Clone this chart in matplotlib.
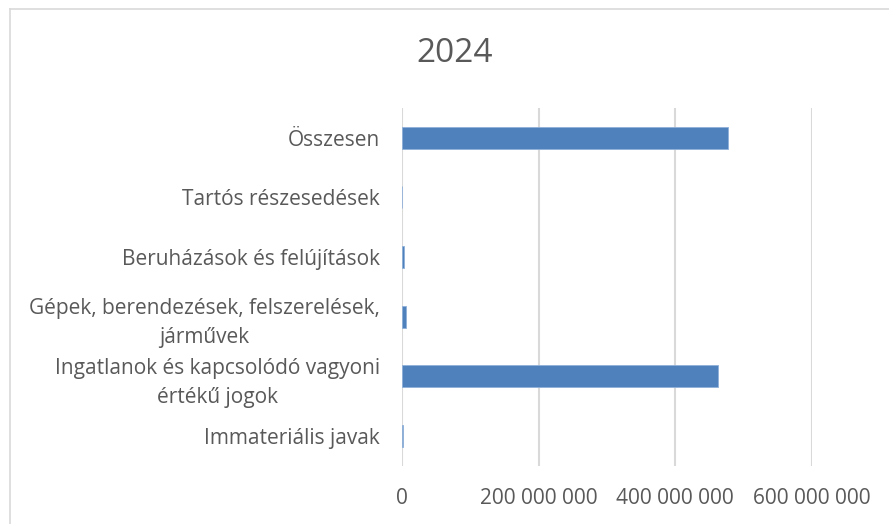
import matplotlib
matplotlib.use("Agg")
import matplotlib.pyplot as plt
from matplotlib.lines import Line2D

# adatok (alulról felfelé, ahogy az Excel-diagramon)
categories = [
    "Immateriális javak",
    "Ingatlanok és kapcsolódó vagyoni\nértékű jogok",
    "Gépek, berendezések, felszerelések,\njárművek",
    "Beruházások és felújítások",
    "Tartós részesedések",
    "Összesen",
]
values = [1_200_000, 463_000_000, 5_300_000, 3_400_000, 0, 477_000_000]
xticks = [0, 200_000_000, 400_000_000, 600_000_000]
xtick_labels = ["0", "200 000 000", "400 000 000", "600 000 000"]
title = "2024"

TXT = "#595959"
GRID = "#D9D9D9"
BAR = "#4F81BD"

plt.rcParams["font.family"] = ["Open Sans", "DejaVu Sans"]

fig = plt.figure(figsize=(8.89, 5.24), dpi=100)
ax = fig.add_axes([402 / 889, 1 - 465.5 / 524, (812 - 402) / 889, (465.5 - 108) / 524])

ax.barh(range(len(values)), values, height=0.37, color=BAR,
        edgecolor="#8FB0DA", linewidth=0.6, zorder=3)

ax.set_xlim(0, 600_000_000)
ax.set_ylim(-0.5, len(values) - 0.5)
ax.set_xticks(xticks)
ax.set_xticklabels(xtick_labels, fontsize=15, color=TXT)
ax.set_yticks(range(len(categories)))
ax.set_yticklabels(categories, fontsize=15, color=TXT, ha="right",
                   multialignment="center", linespacing=1.5)
ax.tick_params(axis="y", length=0, pad=16)
ax.tick_params(axis="x", length=0, pad=16)
ax.grid(axis="x", color=GRID, lw=1.5, zorder=0)
for s in ax.spines.values():
    s.set_visible(False)

fig.text(455 / 889, 1 - 54 / 524, title, fontsize=24, color=TXT,
         ha="center", va="center")

# diagram kerete (jobb és alsó szél le van vágva)
fig.add_artist(Line2D([9.5 / 889, 9.5 / 889], [0, 1 - 9 / 524],
                      transform=fig.transFigure, color=GRID, lw=1.2))
fig.add_artist(Line2D([9.5 / 889, 1], [1 - 9 / 524, 1 - 9 / 524],
                      transform=fig.transFigure, color=GRID, lw=1.2))

fig.savefig("out.png", dpi=100)
